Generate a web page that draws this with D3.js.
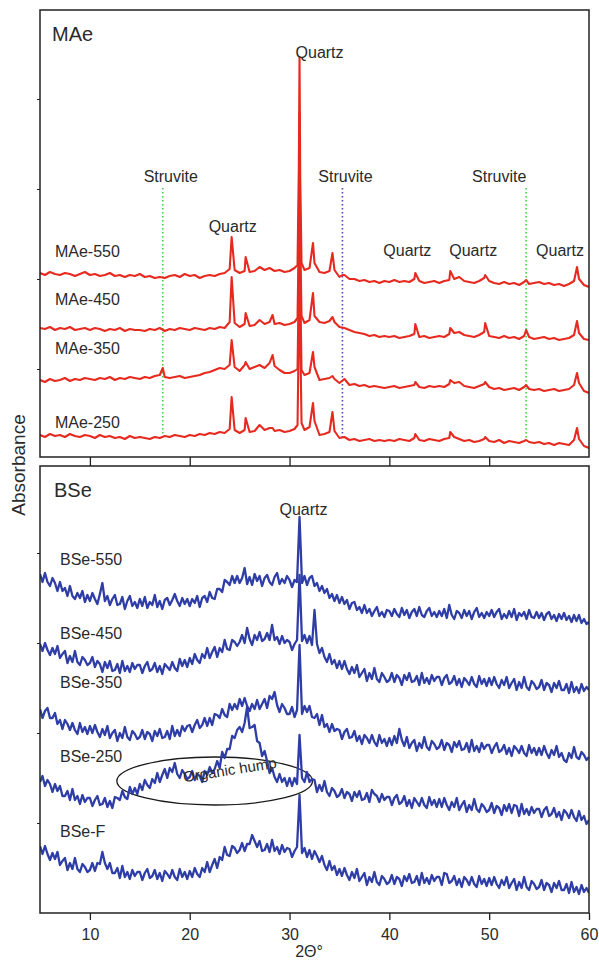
<!DOCTYPE html>
<html>
<head>
<meta charset="utf-8">
<script src="https://cdn.jsdelivr.net/npm/d3@7/dist/d3.min.js"></script>
<style>
  body { margin: 0; background: #fff; }
  svg text { font-family: "Liberation Sans", Arial, Helvetica, sans-serif; fill: #2a2a2a; }
</style>
</head>
<body>
<div id="chartContainer"></div>
<script>
// ---- data (intensity in a.u., 2theta in degrees) ----
var twoThetaTicks = [10, 20, 30, 40, 50, 60];

// MAe patterns: sampled every 0.5 deg from 5 to 60, peak apexes listed separately
var maeNames = ["MAe-550", "MAe-450", "MAe-350", "MAe-250"];
var maeOffsets = [170, 115, 62, 8];

var mae550 = [14,12,15,13,12,14,13,11,13,15,
  12,13,11,12,14,11,12,10,12,11,
  13,10,11,9,10,9,11,12,10,13,
  11,12,9,11,12,11,13,14,18,17,
  14,16,15,16,20,17,19,16,17,15,
  16,19,230,17,19,24,15,14,16,17,
  10,12,8,8,6,7,5,6,4,6,
  5,7,5,6,5,8,6,4,5,6,
  4,6,7,8,10,6,5,4,6,9,
  6,4,3,5,3,4,2,5,3,4,
  5,3,4,2,3,1,3,6,8,2,
  0];
var mae450 = [14,13,15,12,14,13,15,12,13,14,
  12,14,13,11,13,12,14,11,13,12,
  12,11,13,12,14,11,13,12,14,13,
  12,14,13,12,14,13,15,14,20,19,
  15,18,16,17,22,18,20,18,19,17,
  18,20,230,19,22,26,20,19,21,20,
  15,14,12,10,9,8,6,7,5,6,
  5,6,4,5,6,8,5,6,4,5,
  6,5,8,9,10,7,6,5,7,10,
  6,5,4,6,4,5,3,6,5,3,
  4,5,3,4,2,3,4,7,9,3,
  2];
var mae350 = [15,13,16,14,15,17,14,16,15,17,
  16,15,17,16,18,15,17,16,18,17,
  16,18,17,19,20,18,17,18,19,17,
  18,19,20,22,23,25,27,26,30,28,
  24,30,26,28,30,27,32,29,25,22,
  22,24,240,20,22,28,15,16,17,16,
  12,16,10,11,9,10,8,9,8,7,
  8,9,7,8,9,10,8,7,9,8,
  9,8,11,12,13,9,8,7,9,11,
  8,6,7,5,6,7,5,8,6,5,
  6,4,5,6,4,5,6,10,12,4,
  2];
var mae250 = [14,12,15,13,14,12,15,13,12,14,
  13,11,14,12,13,11,12,10,13,11,
  12,11,10,12,11,13,12,14,13,12,
  14,13,15,14,16,15,17,16,20,19,
  16,19,17,18,24,19,21,18,19,17,
  18,20,250,19,22,28,14,15,17,18,
  11,12,9,10,8,9,10,8,9,8,
  9,8,10,9,8,11,9,8,10,9,
  8,10,11,12,10,8,9,7,8,10,
  8,7,9,6,8,7,6,8,7,6,
  7,5,6,4,6,5,4,9,10,3,
  1];

// peak apexes [2theta, intensity]
var mae550Peaks = [[24.2,50],[25.6,30],[30.8,22],[30.93,120],[31.07,110],[31.2,24],[32.35,44],[34.3,34],[35.3,12],[42.6,14],[46.1,16],[49.6,12],[53.7,7],[58.8,20]];
var mae450Peaks = [[24.2,65],[25.6,29],[28.3,27],[30.8,24],[30.93,110],[31.07,105],[31.2,26],[32.35,49],[34.3,25],[42.6,18],[46.1,14],[49.6,19],[53.7,12],[58.8,21]];
var mae350Peaks = [[17.3,27],[24.2,55],[25.6,33],[28.3,40],[30.8,26],[30.93,115],[31.07,110],[31.2,25],[32.35,43],[34.3,19],[42.6,13],[46.1,15],[49.6,13],[53.7,10],[58.8,22]];
var mae250Peaks = [[24.2,52],[25.6,31],[28.3,21],[30.8,24],[30.93,120],[31.07,115],[31.2,26],[32.35,46],[34.3,37],[42.6,15],[46.1,17],[49.6,12],[53.7,9],[58.8,21]];

// BSe patterns: sampled every 0.25 deg from 5 to 60
var bseNames = ["BSe-550", "BSe-450", "BSe-350", "BSe-250", "BSe-F"];
var bseOffsets = [288, 218, 153, 88, 18];

var bse550 = [51,43,52,43,39,47,42,34,43,34,37,29,39,29,26,32,27,34,23,30,
  24,32,26,21,31,42,24,29,20,26,30,20,21,28,16,24,29,19,23,17,
  26,19,28,17,23,20,30,18,24,16,25,27,20,25,31,24,19,27,21,26,
  19,26,22,29,18,27,29,23,33,27,26,36,36,33,45,43,40,49,42,49,
  42,47,57,41,48,40,51,44,49,39,47,50,43,40,48,52,41,46,42,49,
  45,38,45,43,108,42,49,40,47,49,39,42,34,39,32,36,27,31,24,30,
  22,28,21,25,16,22,23,15,18,12,20,12,16,9,14,18,9,13,8,15,
  14,9,16,11,8,17,10,15,7,13,16,9,18,10,8,14,17,9,13,8,
  14,9,16,7,20,10,6,14,12,7,15,9,14,6,13,17,8,12,7,13,
  9,15,8,13,16,6,11,7,14,8,16,5,12,9,13,6,15,8,7,13,
  7,12,5,11,13,6,10,4,11,6,12,5,9,3,10,4,10,2,6,1,
  3];
var bse450 = [51,44,52,45,40,47,41,49,37,41,44,32,39,33,44,33,30,38,35,30,
  32,38,28,34,31,23,33,27,34,24,25,31,22,34,24,29,23,32,26,30,
  30,22,29,33,24,26,32,23,29,21,31,28,25,33,27,24,36,29,35,28,
  37,31,41,35,32,41,37,47,37,43,48,38,47,43,55,46,45,55,53,49,
  53,60,52,67,56,50,60,55,63,54,56,62,55,70,55,58,51,59,52,55,
  53,45,51,55,120,54,60,52,59,50,85,51,42,47,38,33,41,31,35,27,
  34,26,34,26,21,28,22,30,18,22,26,14,22,16,27,16,13,22,18,13,
  15,22,13,20,17,10,20,15,22,13,14,19,10,22,12,17,11,20,14,18,
  18,10,17,20,11,13,19,10,16,8,17,14,10,18,11,8,19,11,16,9,
  17,10,18,11,7,15,10,18,7,12,16,5,13,7,18,8,5,14,11,6,
  8,15,5,12,10,3,12,7,14,5,5,11,2,13,3,8,2,11,4,8,
  5];
var bse350 = [51,42,49,52,42,42,47,36,40,31,40,36,30,37,30,26,37,28,33,26,
  34,27,35,28,23,31,25,34,22,27,30,19,27,22,33,23,20,29,26,21,
  23,30,21,28,26,19,29,24,31,22,23,29,21,34,24,30,24,34,29,34,
  35,28,35,40,32,35,42,34,42,35,46,45,42,51,45,43,56,50,56,51,
  61,54,62,54,49,56,51,60,51,56,61,52,64,61,68,55,48,56,52,46,
  46,53,43,50,115,46,54,48,54,43,42,46,35,45,33,36,28,36,29,31,
  30,21,28,31,22,23,29,19,24,16,25,22,17,25,18,14,25,17,21,14,
  22,15,24,17,31,20,14,23,12,17,20,9,17,12,23,13,10,19,16,11,
  13,20,10,17,15,8,18,13,19,10,11,17,8,20,9,14,8,17,11,15,
  15,7,13,17,8,10,15,6,12,4,14,11,7,14,7,4,15,7,12,5,
  12,5,14,7,2,10,5,14,3,7,0,-2,7,2,13,3,1,8,5,0,
  3];
var bse250 = [43,49,39,45,41,33,41,34,39,29,29,34,25,36,25,29,21,30,23,27,
  27,19,25,29,20,21,27,18,24,17,28,27,25,34,28,26,38,31,37,31,
  41,35,45,40,37,46,42,52,43,50,56,47,57,53,62,51,47,55,51,46,
  48,54,45,51,49,43,54,50,58,52,56,64,57,73,67,76,76,89,87,95,
  98,93,102,118,97,98,100,84,82,69,74,64,52,57,48,43,51,43,47,39,
  47,39,47,41,90,47,43,53,43,46,45,33,40,34,44,33,29,37,34,28,
  30,36,27,33,31,24,33,28,34,25,26,32,23,35,31,29,23,31,25,28,
  28,20,27,30,21,23,29,19,25,17,27,23,19,27,20,17,28,20,25,18,
  26,18,27,20,15,23,18,27,15,20,24,13,20,15,26,16,13,21,18,13,
  15,22,12,19,17,10,20,14,21,12,20,19,9,21,11,16,10,18,12,16,
  16,8,15,18,9,11,17,8,13,5,15,12,7,15,8,4,14,5,9,1,
  5];
var bseF = [49,41,49,41,35,42,36,43,30,34,37,25,32,26,37,26,23,31,28,23,
  25,32,24,32,31,43,32,26,32,22,22,27,17,29,18,23,16,25,19,23,
  23,15,22,26,17,19,25,16,22,14,24,21,17,25,18,15,26,18,23,16,
  24,18,27,21,18,27,23,33,23,30,36,27,38,35,48,40,39,49,47,42,
  45,52,44,51,51,60,54,48,54,44,45,51,43,55,44,48,41,50,43,47,
  46,38,44,48,100,42,47,38,45,36,44,39,33,39,30,25,34,25,29,20,
  26,19,27,20,15,23,17,26,14,18,22,10,18,13,23,13,10,19,16,11,
  13,20,11,18,16,9,19,14,21,12,13,19,10,22,12,17,11,20,14,18,
  18,10,22,21,12,14,19,10,16,8,18,15,10,18,11,8,19,11,16,9,
  17,10,18,11,7,15,10,18,7,12,16,5,13,7,18,8,5,14,11,6,
  8,15,5,12,10,3,12,7,14,5,5,11,2,13,3,8,1,10,3,7,
  2];

// reference lines / annotations, in data coordinates
var struvitePositions = [17.3, 35.3, 53.7];
var struviteColors = ["#3fcf3f", "#4848c8", "#3fcf3f"];
var struviteLabelX = [18.1, 35.6, 51.0];
var quartzTopLabels = [[30.6, 399, "start"], [24.3, 225, "middle"], [41.8, 201, "middle"], [48.4, 201, "middle"], [57.1, 201, "middle"]];
var maeLabelLevels = [200, 152, 103, 29];
var bseLabelLevels = [348, 274, 225, 151, 76];

// ---- drawing ----
var W = 599, H = 968;
var svg = d3.select("#chartContainer").append("svg")
  .attr("width", W).attr("height", H);

var x = d3.scaleLinear().domain([5, 60]).range([40, 589]);
var yTop = d3.scaleLinear().domain([0, 447]).range([457, 10]);
var yBot = d3.scaleLinear().domain([0, 447]).range([913, 466]);

var red = "#e62a1f", blue = "#2e3ea6";

//turn a sampled array + its extra apex points into [x, y] pairs
function toPoints(values, extras) {
  var step = 55 / (values.length - 1);
  var pts = values.map(function (v, i) { return [5 + i * step, v]; });
  if (extras) pts = pts.concat(extras);
  return pts.sort(function (a, b) { return a[0] - b[0]; });
}

var defs = svg.append("defs");
defs.append("clipPath").attr("id", "clipTop").append("rect")
  .attr("x", 40).attr("y", 10).attr("width", 549).attr("height", 447);
defs.append("clipPath").attr("id", "clipBot").append("rect")
  .attr("x", 40).attr("y", 466).attr("width", 549).attr("height", 447);

// ---------- top panel (MAe) ----------
var topPanel = svg.append("g");
var topPlot = topPanel.append("g").attr("clip-path", "url(#clipTop)");

struvitePositions.forEach(function (p, i) {
  topPlot.append("line")
    .attr("x1", x(p)).attr("x2", x(p))
    .attr("y1", yTop(269)).attr("y2", yTop(17))
    .attr("stroke", struviteColors[i]).attr("stroke-width", 1.6)
    .attr("stroke-dasharray", "1.6,2.4");
  topPanel.append("text")
    .attr("x", x(struviteLabelX[i])).attr("y", yTop(275))
    .attr("text-anchor", "middle").style("font-size", "16px")
    .text("Struvite");
});

var maeSeries = [[mae550, mae550Peaks], [mae450, mae450Peaks], [mae350, mae350Peaks], [mae250, mae250Peaks]];
maeSeries.forEach(function (s, i) {
  var off = maeOffsets[i];
  var line = d3.line()
    .x(function (d) { return x(d[0]); })
    .y(function (d) { return yTop(d[1] + off); });
  topPlot.append("path")
    .datum(toPoints(s[0], s[1]))
    .attr("d", line)
    .attr("fill", "none").attr("stroke", red)
    .attr("stroke-width", 2.1).attr("stroke-linejoin", "round");
  topPanel.append("text")
    .attr("x", x(6.5)).attr("y", yTop(maeLabelLevels[i]))
    .style("font-size", "16px")
    .text(maeNames[i]);
});

quartzTopLabels.forEach(function (q) {
  topPanel.append("text")
    .attr("x", x(q[0])).attr("y", yTop(q[1]))
    .attr("text-anchor", q[2]).style("font-size", "16px")
    .text("Quartz");
});

topPanel.append("text").attr("x", x(6.2)).attr("y", yTop(416))
  .style("font-size", "20px").text("MAe");

topPanel.append("rect").attr("x", 40).attr("y", 10).attr("width", 549).attr("height", 447)
  .attr("fill", "none").attr("stroke", "#222").attr("stroke-width", 1.5);

topPanel.append("g").attr("transform", "translate(0,457)")
  .call(d3.axisBottom(x).tickValues([10, 20, 30, 40, 50]).tickSize(9).tickFormat(""))
  .call(function (g) { g.select(".domain").remove(); })
  .selectAll("line").attr("stroke", "#222").attr("stroke-width", 1.3);

topPanel.append("g").attr("transform", "translate(40,0)")
  .call(d3.axisLeft(yTop).tickValues([88, 178, 268, 358]).tickSize(3).tickFormat(""))
  .call(function (g) { g.select(".domain").remove(); })
  .selectAll("line").attr("stroke", "#222");

// ---------- bottom panel (BSe) ----------
var botPanel = svg.append("g");
var botPlot = botPanel.append("g").attr("clip-path", "url(#clipBot)");

// organic hump annotation
botPlot.append("ellipse")
  .attr("cx", x(22.5)).attr("cy", yBot(132))
  .attr("rx", x(22.5 + 9.8) - x(22.5)).attr("ry", yBot(0) - yBot(24))
  .attr("fill", "none").attr("stroke", "#1a1a1a").attr("stroke-width", 1.3);
botPanel.append("text")
  .attr("transform", "translate(" + x(24.1) + "," + yBot(138) + ") rotate(-9)")
  .attr("text-anchor", "middle").style("font-size", "15px")
  .text("Organic hump");

var bseSeries = [bse550, bse450, bse350, bse250, bseF];
bseSeries.forEach(function (s, i) {
  var off = bseOffsets[i];
  var line = d3.line()
    .x(function (d) { return x(d[0]); })
    .y(function (d) { return yBot(d[1] + off); });
  botPlot.append("path")
    .datum(toPoints(s))
    .attr("d", line)
    .attr("fill", "none").attr("stroke", blue)
    .attr("stroke-width", 2.3).attr("stroke-linejoin", "round");
  botPanel.append("text")
    .attr("x", x(7.0)).attr("y", yBot(bseLabelLevels[i]))
    .style("font-size", "16px")
    .text(bseNames[i]);
});

botPanel.append("text").attr("x", x(31.4)).attr("y", yBot(398))
  .attr("text-anchor", "middle").style("font-size", "16px").text("Quartz");

botPanel.append("text").attr("x", x(6.4)).attr("y", yBot(416))
  .style("font-size", "20px").text("BSe");

botPanel.append("rect").attr("x", 40).attr("y", 466).attr("width", 549).attr("height", 447)
  .attr("fill", "none").attr("stroke", "#222").attr("stroke-width", 1.5);

var xAxis = botPanel.append("g").attr("transform", "translate(0,913)")
  .call(d3.axisBottom(x).tickValues(twoThetaTicks).tickSize(7).tickPadding(9))
  .call(function (g) { g.select(".domain").remove(); });
xAxis.selectAll("line").attr("stroke", "#222").attr("stroke-width", 1.3);
xAxis.selectAll("text").style("font-size", "16px")
  .style("font-family", "'Liberation Sans', Arial, sans-serif").attr("fill", "#2a2a2a");

botPanel.append("g").attr("transform", "translate(40,0)")
  .call(d3.axisLeft(yBot).tickValues([90, 180, 270, 360]).tickSize(3).tickFormat(""))
  .call(function (g) { g.select(".domain").remove(); })
  .selectAll("line").attr("stroke", "#222");

// axis titles
svg.append("text").attr("x", 309).attr("y", 957)
  .attr("text-anchor", "middle").style("font-size", "16px").text("2\u0398\u00b0");

svg.append("text")
  .attr("transform", "translate(25,465) rotate(-90)")
  .attr("text-anchor", "middle").style("font-size", "19px")
  .text("Absorbance");
</script>
</body>
</html>
